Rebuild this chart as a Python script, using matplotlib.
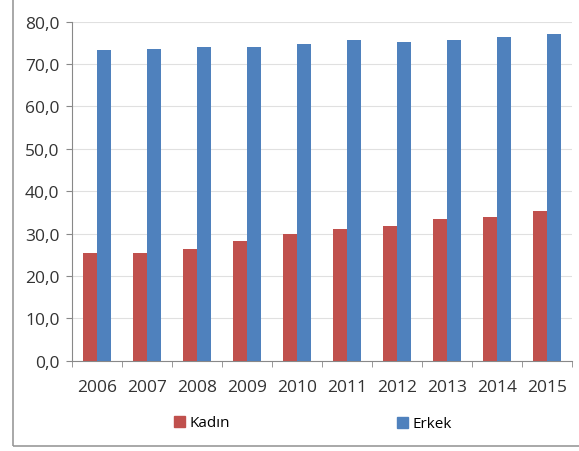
import matplotlib
matplotlib.use("Agg")
import matplotlib.pyplot as plt
import numpy as np
from matplotlib.patches import Rectangle

years = ["2006", "2007", "2008", "2009", "2010", "2011", "2012", "2013", "2014", "2015"]
kadin = [25.4, 25.4, 26.4, 28.2, 29.8, 31.1, 31.9, 33.4, 33.8, 35.3]
erkek = [73.3, 73.6, 74.0, 74.1, 74.7, 75.6, 75.2, 75.6, 76.5, 77.2]
yticks = [0, 10, 20, 30, 40, 50, 60, 70, 80]
ytick_labels = ["0,0", "10,0", "20,0", "30,0", "40,0", "50,0", "60,0", "70,0", "80,0"]

red = "#C0504D"
blue = "#4F81BD"

plt.rcParams['font.family'] = ['Open Sans', 'DejaVu Sans']

fig = plt.figure(figsize=(5.79, 4.52), dpi=100)
fig.patch.set_facecolor("white")
ax = fig.add_axes([72/579, 1-361.7/452, 500/579, (361.7-22.7)/452])

x = np.arange(len(years))
w = 0.28
ax.bar(x - w/2, kadin, w, color=red, label="Kadın", zorder=3)
ax.bar(x + w/2, erkek, w, color=blue, label="Erkek", zorder=3)

ax.set_xlim(-0.5, len(years) - 0.5)
ax.set_ylim(0, 80)
ax.set_yticks(yticks)
ax.set_yticklabels(ytick_labels, fontsize=12.5, color="#333333")
ax.set_xticks(x)
ax.set_xticklabels(years, fontsize=12.5, color="#333333")
ax.set_xticks(np.arange(-0.5, len(years), 1), minor=True)
ax.tick_params(axis='x', which='major', length=0, pad=13)
ax.tick_params(axis='x', which='minor', length=4, color="#888888", direction='out')
ax.tick_params(axis='y', length=4, color="#888888", pad=5)
ax.grid(axis='y', color="#E0E0E0", linewidth=0.8, zorder=0)
for s in ["top", "right"]:
    ax.spines[s].set_visible(False)
ax.spines["left"].set_color("#888888")
ax.spines["bottom"].set_color("#888888")

# outer chart frame
fig.patches.append(Rectangle((13/579, 1-447/452), 1.1, 1.1, transform=fig.transFigure,
                             fill=False, edgecolor="#999999", linewidth=1.2))

h1 = Rectangle((0, 0), 1, 1, color=red)
h2 = Rectangle((0, 0), 1, 1, color=blue)
fig.legend([h1], ["Kadın"], loc="center left", bbox_to_anchor=(160/579, 1-424/452),
           frameon=False, fontsize=11, handlelength=0.75, handleheight=0.75, handletextpad=0.3)
fig.legend([h2], ["Erkek"], loc="center left", bbox_to_anchor=(383/579, 1-425/452),
           frameon=False, fontsize=11, handlelength=0.75, handleheight=0.75, handletextpad=0.3)

fig.savefig("out.png", dpi=100)
